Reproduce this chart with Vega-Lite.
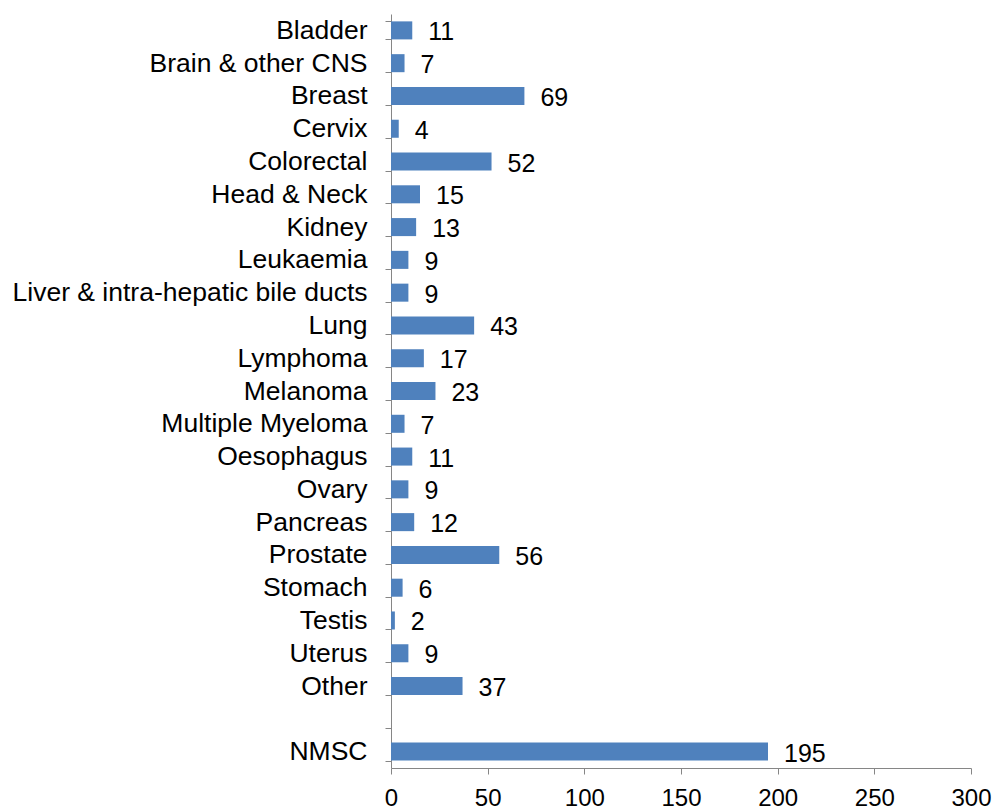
{
  "$schema": "https://vega.github.io/schema/vega-lite/v6.json",
  "width": 580,
  "height": 754,
  "autosize": {"type": "none"},
  "padding": {"left": 391, "top": 14, "right": 27, "bottom": 42},
  "background": "white",
  "config": {
    "view": {"stroke": null},
    "font": "Liberation Sans"
  },
  "data": {
    "values": [
      {"site": "Bladder", "cases": 11},
      {"site": "Brain & other CNS", "cases": 7},
      {"site": "Breast", "cases": 69},
      {"site": "Cervix", "cases": 4},
      {"site": "Colorectal", "cases": 52},
      {"site": "Head & Neck", "cases": 15},
      {"site": "Kidney", "cases": 13},
      {"site": "Leukaemia", "cases": 9},
      {"site": "Liver & intra-hepatic bile ducts", "cases": 9},
      {"site": "Lung", "cases": 43},
      {"site": "Lymphoma", "cases": 17},
      {"site": "Melanoma", "cases": 23},
      {"site": "Multiple Myeloma", "cases": 7},
      {"site": "Oesophagus", "cases": 11},
      {"site": "Ovary", "cases": 9},
      {"site": "Pancreas", "cases": 12},
      {"site": "Prostate", "cases": 56},
      {"site": "Stomach", "cases": 6},
      {"site": "Testis", "cases": 2},
      {"site": "Uterus", "cases": 9},
      {"site": "Other", "cases": 37},
      {"site": "NMSC", "cases": 195}
    ]
  },
  "encoding": {
    "y": {
      "field": "site",
      "type": "nominal",
      "scale": {
        "domain": ["Bladder", "Brain & other CNS", "Breast", "Cervix", "Colorectal", "Head & Neck", "Kidney", "Leukaemia", "Liver & intra-hepatic bile ducts", "Lung", "Lymphoma", "Melanoma", "Multiple Myeloma", "Oesophagus", "Ovary", "Pancreas", "Prostate", "Stomach", "Testis", "Uterus", "Other", " ", "NMSC"],
        "paddingInner": 0.45,
        "paddingOuter": 0.225
      },
      "axis": {
        "title": null,
        "domainColor": "#868686",
        "tickColor": "#868686",
        "tickSize": 6,
        "tickBand": "extent",
        "labelFontSize": 26.5,
        "labelColor": "black",
        "labelPadding": 18,
        "labelLimit": 0,
        "labelFont": "Liberation Sans"
      }
    },
    "x": {
      "field": "cases",
      "type": "quantitative",
      "scale": {"domain": [0, 300], "nice": false},
      "axis": {
        "title": null,
        "values": [0, 50, 100, 150, 200, 250, 300],
        "grid": false,
        "domainColor": "#868686",
        "tickColor": "#868686",
        "tickSize": 6,
        "labelFontSize": 24,
        "labelColor": "black",
        "labelPadding": 12,
        "labelFont": "Liberation Sans",
        "labelFlush": false
      }
    }
  },
  "layer": [
    {
      "mark": {"type": "bar", "color": "#4F81BD"}
    },
    {
      "mark": {"type": "text", "align": "left", "baseline": "middle", "dx": 16, "dy": 2, "fontSize": 25, "color": "black", "font": "Liberation Sans"},
      "encoding": {"text": {"field": "cases", "type": "quantitative"}}
    }
  ]
}
